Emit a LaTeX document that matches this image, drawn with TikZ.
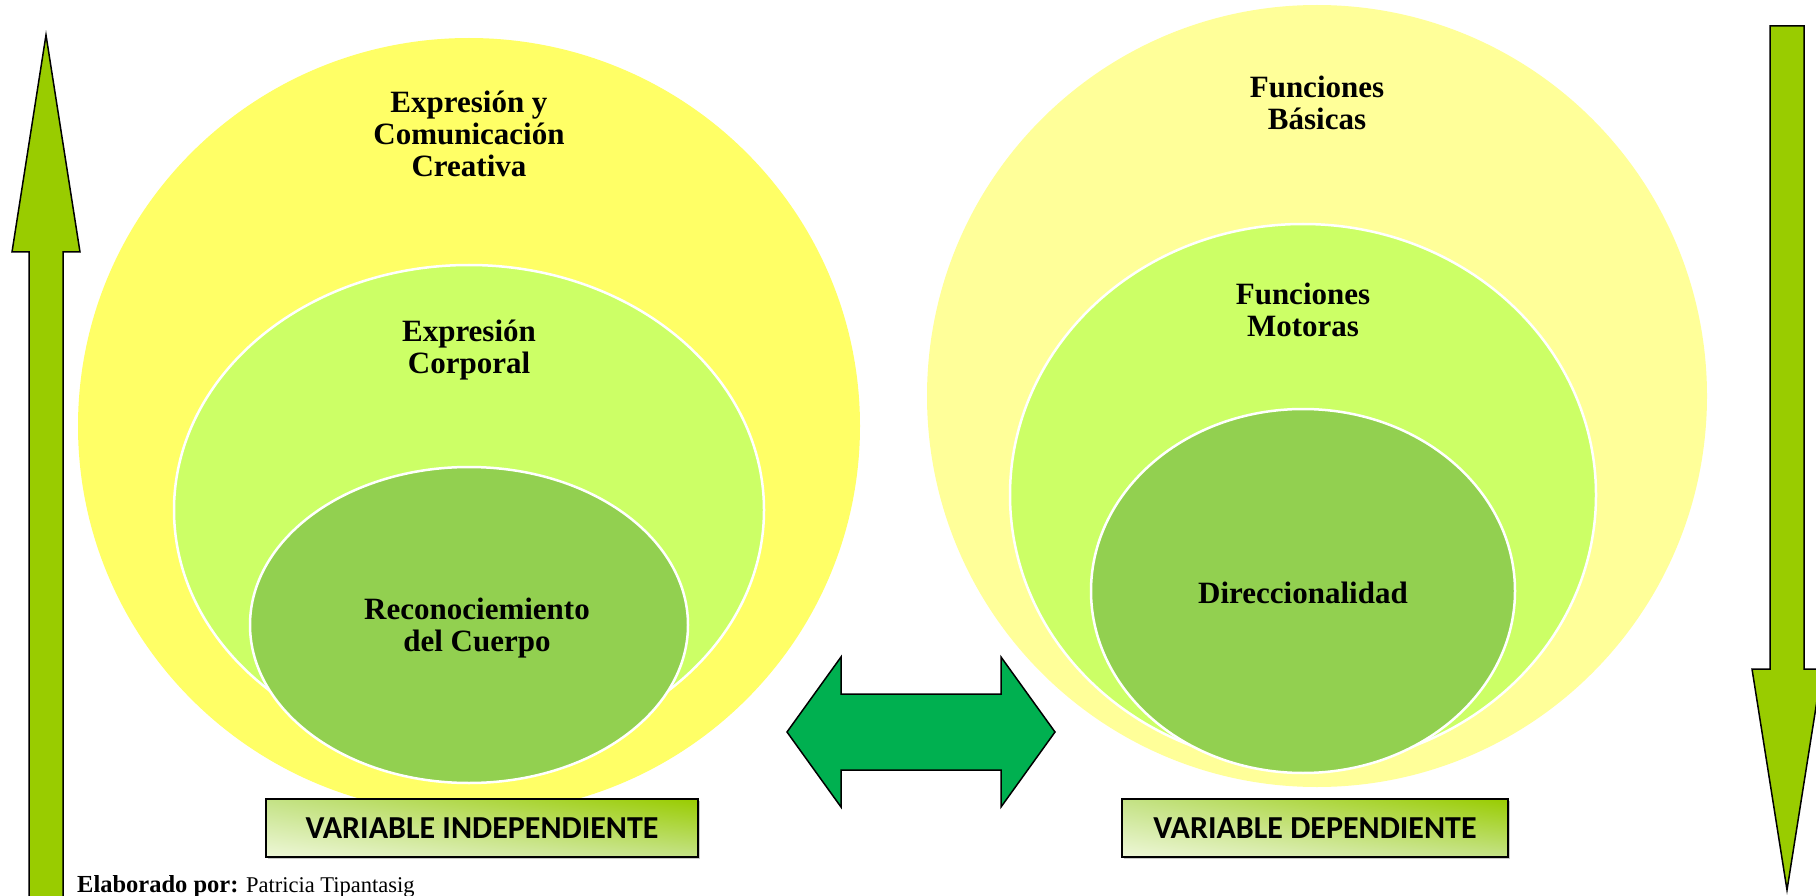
\documentclass[tikz,border=0pt]{standalone}
\usepackage{fontspec}
\setmainfont{Liberation Serif}
\newfontfamily\calib{Carlito}
\usetikzlibrary{shadows,shadings}
\definecolor{yA}{HTML}{FFFF66}
\definecolor{yB}{HTML}{FFFF99}
\definecolor{lG}{HTML}{CCFF66}
\definecolor{mG}{HTML}{92D050}
\definecolor{aG}{HTML}{99CC00}
\definecolor{dG}{HTML}{00B050}
\definecolor{paleG}{HTML}{EEF7D8}
\definecolor{midG}{HTML}{C4E286}
\begin{document}
\begin{tikzpicture}[x=1pt,y=-1pt,
  ring/.style={draw=white,line width=2.5pt},
  lbl/.style={font=\bfseries\fontsize{31}{32}\selectfont,align=center,inner sep=0pt},
  arrowshape/.style={draw=black,line width=1.5pt,line join=miter},
  varbox/.style={draw=black,line width=1.5pt,minimum height=58pt,inner sep=0pt,
    font=\calib\bfseries\fontsize{32}{34}\selectfont,
    lower left=paleG,upper right=aG,lower right=midG,upper left=midG,
    drop shadow={shadow xshift=2pt,shadow yshift=-2pt,fill=black!35,opacity=0.6}}]
\useasboundingbox (0,0) rectangle (1816,896);
\clip (0,0) rectangle (1816,896);
\fill[white] (0,0) rectangle (1816,896);
% left set of ellipses
\fill[yA] (469,426) ellipse [x radius=391, y radius=388];
\filldraw[fill=lG,ring] (469,510) ellipse [x radius=295, y radius=245];
\filldraw[fill=mG,ring] (469,625) ellipse [x radius=219, y radius=158];
% right set of ellipses
\fill[yB] (1317,396) ellipse [x radius=390, y radius=391];
\filldraw[fill=lG,ring] (1303,495) ellipse [x radius=293, y radius=271];
\filldraw[fill=mG,ring] (1303,591) ellipse [x radius=212, y radius=182];
% texts
\node[lbl] (t1) at (469,134) {Expresión y\\Comunicación\\Creativa};
\node[lbl] (t2) at (469,350) {Expresión\\Corporal};
\node[lbl] (t3) at (477,628) {Reconociemiento\\del Cuerpo\hspace{16pt}};
\node[lbl] (t4) at (1317,103) {Funciones\\Básicas};
\node[lbl] (t5) at (1303,310) {Funciones\\Motoras};
\node[lbl] (t6) at (1303,593) {Direccionalidad};
% vertical arrows
\filldraw[fill=aG,arrowshape] (46,35) -- (80,252) -- (63,252) -- (63,910) -- (29,910) -- (29,252) -- (12,252) -- cycle;
\filldraw[fill=aG,arrowshape] (1770,26) -- (1804,26) -- (1804,669) -- (1822,669) -- (1787,890) -- (1752,669) -- (1770,669) -- cycle;
% double arrow
\filldraw[fill=dG,arrowshape] (787,732) -- (841,657) -- (841,694) -- (1001,694) -- (1001,657) -- (1055,732) -- (1001,807) -- (1001,770) -- (841,770) -- (841,807) -- cycle;
% boxes
\node[varbox,minimum width=432pt] (vi) at (482,828) {VARIABLE INDEPENDIENTE};
\node[varbox,minimum width=386pt] (vd) at (1315,828) {VARIABLE DEPENDIENTE};
% credit
\node[anchor=base west,inner sep=0pt,font=\fontsize{22.5}{24}\selectfont] (cr) at (77,892) {{\fontsize{24.5}{26}\selectfont\textbf{Elaborado por:}} Patricia Tipantasig};
\end{tikzpicture}
\end{document}
